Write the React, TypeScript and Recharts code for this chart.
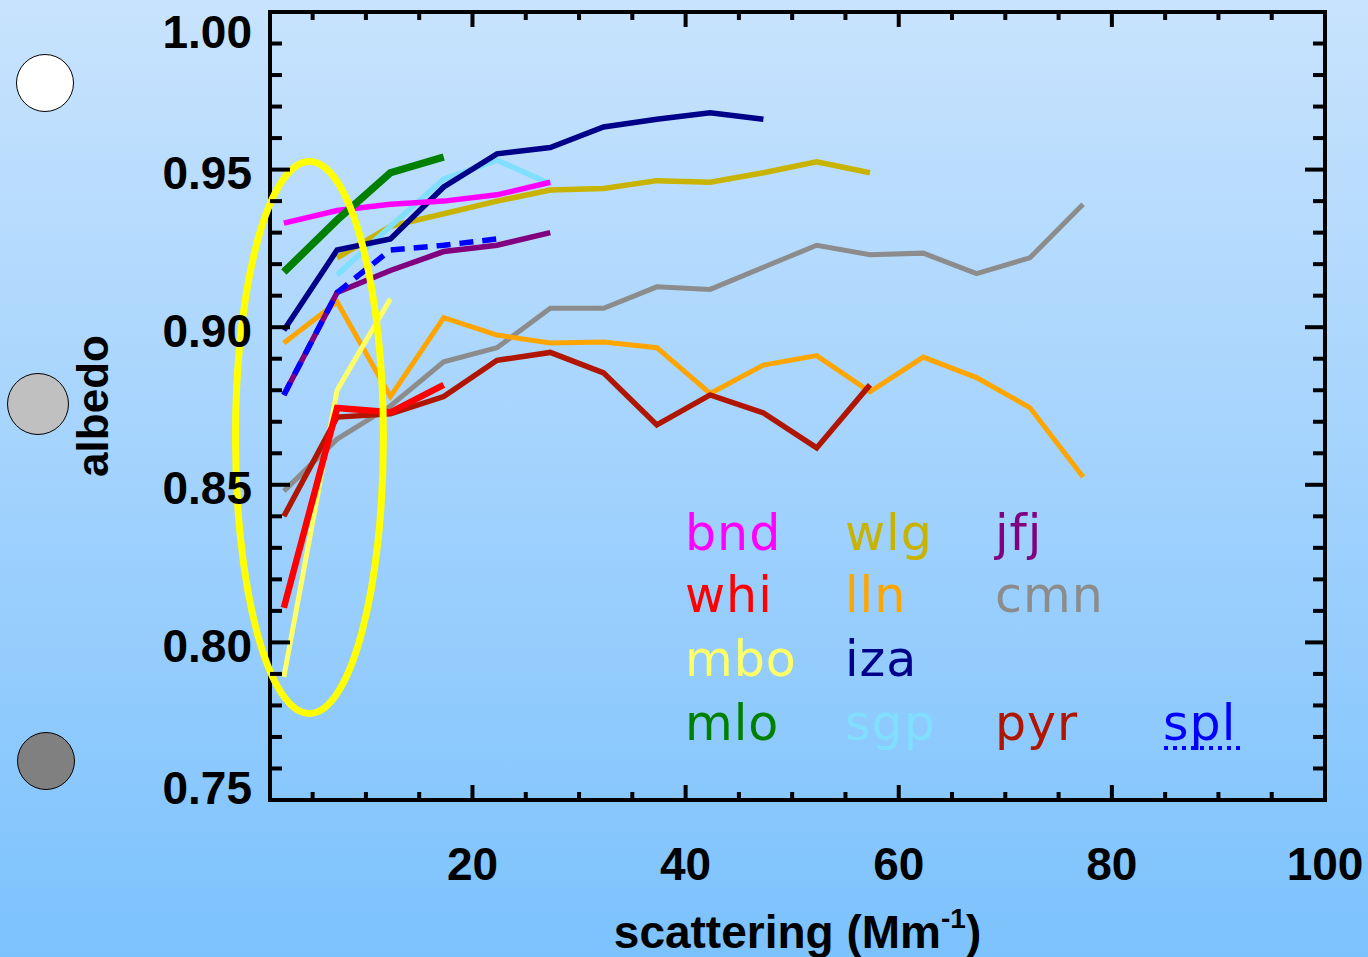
import { Legend, Line, LineChart, ReferenceDot, XAxis, YAxis } from "recharts";

const W = 1368;
const H = 957;
const PLOT_TOP = 12;
const PLOT_BOTTOM = 800;

// scattering bins (Mm-1)
const xBins = [2.3, 7.3, 12.3, 17.3, 22.3, 27.3, 32.3, 37.3, 42.3, 47.3, 52.3, 57.3, 62.3, 67.3, 72.3, 77.3];

// albedo per station, null where the station has no data
const bnd = [0.933, 0.937, 0.939, 0.94, 0.942, 0.946];
const whi = [0.811, 0.8744, 0.873, 0.8817];
const mbo = [0.789, 0.88, 0.909];
const mlo = [0.9175, 0.934, 0.949, 0.954];
const wlg = [null, 0.922, 0.932, 0.936, 0.94, 0.9435, 0.944, 0.9465, 0.946, 0.949, 0.9525, 0.949];
const lln = [0.895, 0.908, 0.878, 0.903, 0.8975, 0.895, 0.8953, 0.8935, 0.879, 0.888, 0.891, 0.8795, 0.8905, 0.884, 0.8745, 0.8525];
const iza = [0.899, 0.9245, 0.928, 0.9445, 0.955, 0.957, 0.9635, 0.966, 0.968, 0.966];
const sgp = [null, 0.9166, 0.932, 0.947, 0.953, 0.9455];
const jfj = [0.8785, 0.911, 0.918, 0.924, 0.926, 0.93];
const cmn = [0.848, 0.8645, 0.875, 0.889, 0.8935, 0.906, 0.906, 0.9128, 0.912, 0.919, 0.926, 0.923, 0.9235, 0.917, 0.922, 0.939];
const pyr = [0.84, 0.8715, 0.8725, 0.878, 0.8895, 0.892, 0.8855, 0.869, 0.8785, 0.8728, 0.8617, 0.8817];
const spl = [0.8785, 0.911, 0.9245, 0.926, 0.928];

const xTicks = [5, 10, 15, 20, 25, 30, 35, 40, 45, 50, 55, 60, 65, 70, 75, 80, 85, 90, 95, 100];
const xLabelTicks = [20, 40, 60, 80, 100];
const yTicks = [
  0.75, 0.76, 0.77, 0.78, 0.79, 0.8, 0.81, 0.82, 0.83, 0.84, 0.85, 0.86, 0.87,
  0.88, 0.89, 0.9, 0.91, 0.92, 0.93, 0.94, 0.95, 0.96, 0.97, 0.98, 0.99, 1.0,
];
const yLabelTicks = [0.75, 0.8, 0.85, 0.9, 0.95, 1.0];

// highlighted low-scattering region
const ellipseCenter = { x: 4.7, y: 0.865 };

const legendRows = [
  ["bnd", "wlg", "jfj"],
  ["whi", "lln", "cmn"],
  ["mbo", "iza"],
  ["mlo", "sgp", "pyr", "spl"],
];
const legendColX = [685, 845, 995, 1163];
const legendRowY = [550, 612, 676, 740];

const series = [
  { key: "cmn", values: cmn, color: "#8c8c8c", width: 5 },
  { key: "lln", values: lln, color: "#ffa500", width: 5 },
  { key: "mbo", values: mbo, color: "#ffff66", width: 5 },
  { key: "pyr", values: pyr, color: "#b01500", width: 5.5 },
  { key: "whi", values: whi, color: "#ff0000", width: 6.5 },
  { key: "jfj", values: jfj, color: "#800080", width: 5.5 },
  { key: "spl", values: spl, color: "#0000ff", width: 5.5, dash: "14 9" },
  { key: "wlg", values: wlg, color: "#c8b400", width: 5.5 },
  { key: "sgp", values: sgp, color: "#80dfff", width: 5.5 },
  { key: "iza", values: iza, color: "#000088", width: 5.5 },
  { key: "bnd", values: bnd, color: "#ff00ff", width: 5.5 },
  { key: "mlo", values: mlo, color: "#008000", width: 7.5 },
];

const rows = xBins.map((x, i) => {
  const row: Record<string, number | null> = { x };
  series.forEach((s) => {
    row[s.key] = s.values[i] ?? null;
  });
  return row;
});

const axisFont = {
  fontFamily: "'Liberation Sans', Arial, sans-serif",
  fontSize: 46,
  fontWeight: 700,
  fill: "#000",
};

const isMajorY = (v: number) => yLabelTicks.some((t) => Math.abs(t - v) < 1e-6);

const BottomTick = (props: any) => {
  const { x, payload } = props;
  const major = xLabelTicks.includes(payload.value);
  return (
    <g>
      <line x1={x} x2={x} y1={PLOT_BOTTOM} y2={PLOT_BOTTOM - (major ? 15 : 8)} stroke="#000" strokeWidth={4} />
      {major && (
        <text x={x} y={PLOT_BOTTOM + 80} textAnchor="middle" style={axisFont}>
          {payload.value}
        </text>
      )}
    </g>
  );
};

const TopTick = (props: any) => {
  const { x, payload } = props;
  const major = xLabelTicks.includes(payload.value);
  return <line x1={x} x2={x} y1={PLOT_TOP} y2={PLOT_TOP + (major ? 15 : 8)} stroke="#000" strokeWidth={4} />;
};

const LeftTick = (props: any) => {
  const { x, y, payload } = props;
  const major = isMajorY(payload.value);
  const cy = Math.min(Math.max(y + 3, PLOT_TOP + 19), PLOT_BOTTOM - 13);
  return (
    <g>
      <line x1={x} x2={x + (major ? 20 : 12)} y1={y} y2={y} stroke="#000" strokeWidth={4} />
      {major && (
        <text x={x - 18} y={cy + 16.5} textAnchor="end" style={axisFont}>
          {payload.value.toFixed(2)}
        </text>
      )}
    </g>
  );
};

const RightTick = (props: any) => {
  const { x, y, payload } = props;
  const major = isMajorY(payload.value);
  return <line x1={x} x2={x - (major ? 20 : 12)} y1={y} y2={y} stroke="#000" strokeWidth={4} />;
};

const XTitle = (props: any) => {
  const vb = props.viewBox;
  return (
    <text x={vb.x + vb.width / 2} y={948} textAnchor="middle" style={axisFont}>
      scattering (Mm
      <tspan fontSize={28} dy={-20}>
        -1
      </tspan>
      <tspan dy={20}>)</tspan>
    </text>
  );
};

const YTitle = (props: any) => {
  const vb = props.viewBox;
  const cy = vb.y + vb.height / 2;
  return (
    <text
      x={108}
      y={cy}
      textAnchor="middle"
      transform={`rotate(-90, 108, ${cy})`}
      style={{ ...axisFont, fontSize: 44 }}
    >
      albedo
    </text>
  );
};

const renderLegend = (props: any) => {
  const payload = props.payload ?? [];
  return (
    <svg width={W} height={H} style={{ position: "absolute", left: 0, top: 0, pointerEvents: "none" }}>
      {payload.map((entry: any) => {
        const r = legendRows.findIndex((row) => row.includes(entry.value));
        if (r < 0) return null;
        const c = legendRows[r].indexOf(entry.value);
        const x = legendColX[c];
        const y = legendRowY[r];
        const dashed = series.find((s) => s.key === entry.value)?.dash;
        return (
          <g key={entry.value}>
            <text
              x={x}
              y={y}
              fill={entry.color}
              style={{ fontFamily: "'DejaVu Sans', sans-serif", fontSize: 49, letterSpacing: 1 }}
            >
              {entry.value}
            </text>
            {dashed && (
              <line x1={x + 1} x2={x + 80} y1={y + 8} y2={y + 8} stroke={entry.color} strokeWidth={4} strokeDasharray="4 5" />
            )}
          </g>
        );
      })}
    </svg>
  );
};

const circles = [
  { cx: 45, cy: 83, r: 29, fill: "#ffffff" },
  { cx: 38, cy: 404, r: 31, fill: "#c0c0c0" },
  { cx: 46, cy: 761, r: 29, fill: "#808080" },
];

const frameLine = { stroke: "#000", strokeWidth: 4, strokeLinecap: "square" as const };

export default function App() {
  return (
    <div
      style={{
        position: "relative",
        width: W,
        height: H,
        background: "linear-gradient(180deg, #c8e3fd 0%, #7cc2fd 100%)",
        overflow: "hidden",
      }}
    >
      <style>{"body{margin:0}"}</style>
      {circles.map((c, i) => (
        <div
          key={i}
          style={{
            position: "absolute",
            left: c.cx - c.r,
            top: c.cy - c.r,
            width: c.r * 2,
            height: c.r * 2,
            borderRadius: "50%",
            background: c.fill,
            border: "1.5px solid #000",
            boxSizing: "border-box",
          }}
        />
      ))}
      <div style={{ position: "absolute", left: 0, top: 0 }}>
        <LineChart width={W} height={H} data={rows} margin={{ top: 11, right: 42, bottom: 156, left: 269 }}>
          <XAxis
            dataKey="x"
            type="number"
            domain={[1, 100]}
            allowDataOverflow
            ticks={xTicks}
            interval={0}
            height={1}
            tickSize={0}
            tickMargin={0}
            tickLine={false}
            tick={<BottomTick />}
            axisLine={frameLine}
            label={<XTitle />}
          />
          <XAxis
            xAxisId="top"
            orientation="top"
            dataKey="x"
            type="number"
            domain={[1, 100]}
            allowDataOverflow
            ticks={xTicks}
            interval={0}
            height={1}
            tickSize={0}
            tickMargin={0}
            tickLine={false}
            tick={<TopTick />}
            axisLine={frameLine}
          />
          <YAxis
            type="number"
            domain={[0.75, 1.0]}
            allowDataOverflow
            ticks={yTicks}
            interval={0}
            width={1}
            tickSize={0}
            tickMargin={0}
            tickLine={false}
            tick={<LeftTick />}
            axisLine={frameLine}
            label={<YTitle />}
          />
          <YAxis
            yAxisId="right"
            orientation="right"
            type="number"
            domain={[0.75, 1.0]}
            allowDataOverflow
            ticks={yTicks}
            interval={0}
            width={1}
            tickSize={0}
            tickMargin={0}
            tickLine={false}
            tick={<RightTick />}
            axisLine={frameLine}
          />
          {series.map((s) => (
            <Line
              key={s.key}
              name={s.key}
              dataKey={s.key}
              type="linear"
              stroke={s.color}
              strokeWidth={s.width}
              strokeDasharray={s.dash}
              dot={false}
              activeDot={false}
              connectNulls={false}
              isAnimationActive={false}
            />
          ))}
          <Legend
            layout="horizontal"
            verticalAlign="middle"
            align="center"
            content={renderLegend}
            wrapperStyle={{ left: 0, top: 0, width: W, height: H, pointerEvents: "none" }}
          />
          <ReferenceDot
            x={ellipseCenter.x}
            y={ellipseCenter.y}
            r={0}
            ifOverflow="visible"
            shape={(p: any) => (
              <ellipse cx={p.cx} cy={p.cy} rx={74} ry={276} fill="none" stroke="#ffff00" strokeWidth={7} />
            )}
          />
        </LineChart>
      </div>
    </div>
  );
}
